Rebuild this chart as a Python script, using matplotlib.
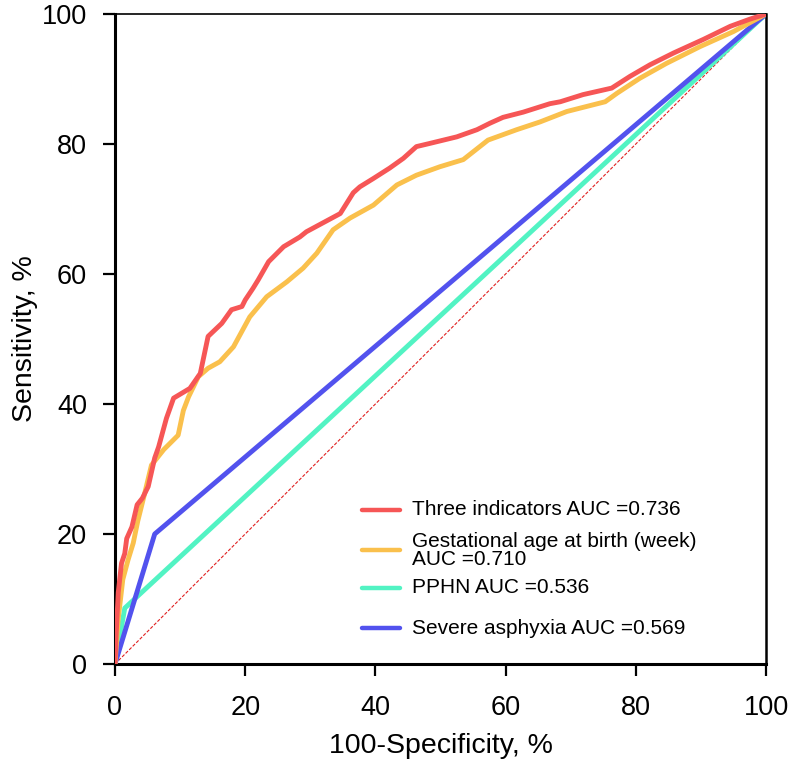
import matplotlib
matplotlib.use("Agg")
import matplotlib.pyplot as plt

plt.rcParams['font.family'] = ['Liberation Sans', 'DejaVu Sans']

# ---- data ----
three_x = [0, 0.2, 0.5, 1.0, 1.5, 1.8, 2.6, 3.4, 4.2, 5.1, 6.1, 6.7, 7.9, 9.0, 11.5, 13.1, 14.3,
           16.4, 17.9, 19.5, 20.0, 21.2, 22.0, 23.6, 25.9, 28.4, 29.4, 32.0, 34.6, 36.6, 37.6,
           39.7, 42.2, 44.3, 46.3, 48.4, 52.5, 55.6, 57.6, 59.6, 62.7, 66.8, 68.4, 71.9, 76.3,
           79.1, 82.2, 85.8, 90.4, 94.5, 97.5, 100]
three_y = [0, 5, 11, 15.5, 17, 19.3, 21.1, 24.5, 25.5, 27.3, 31.7, 33.4, 37.8, 40.9, 42.4, 44.7,
           50.4, 52.4, 54.5, 55.0, 56.0, 57.8, 59.1, 61.9, 64.2, 65.7, 66.5, 67.9, 69.3, 72.5,
           73.4, 74.7, 76.3, 77.8, 79.6, 80.1, 81.1, 82.2, 83.2, 84.1, 84.9, 86.2, 86.5, 87.6,
           88.6, 90.4, 92.2, 94.0, 96.1, 98.1, 99.2, 100]

ga_x = [0, 0.5, 1.2, 2.0, 2.8, 3.5, 4.5, 5.6, 7.5, 9.7, 10.5, 11.3, 12.8, 14.3, 16.1, 18.2, 20.7,
        23.3, 26.4, 28.9, 31.0, 33.5, 36.1, 39.7, 43.3, 46.3, 49.9, 53.5, 57.3, 61.7, 65.3, 69.4,
        75.3, 77.1, 80.6, 84.7, 89.9, 95.0, 100]
ga_y = [0, 7, 13, 16, 18.6, 22, 26, 30.6, 33, 35.2, 39, 41.1, 44.2, 45.5, 46.5, 48.8, 53.4,
        56.5, 58.8, 60.9, 63.2, 66.8, 68.6, 70.6, 73.7, 75.2, 76.5, 77.6, 80.6, 82.2, 83.4, 85.0,
        86.5, 87.8, 90.1, 92.4, 95.0, 97.3, 100]

pphn_x = [0, 1.5, 100]
pphn_y = [0, 8.6, 100]

asph_x = [0, 6.1, 100]
asph_y = [0, 20.0, 100]

ref_x = [0, 100]
ref_y = [0, 100]

labels = ["Three indicators AUC =0.736",
          "Gestational age at birth (week)\nAUC =0.710",
          "PPHN AUC =0.536",
          "Severe asphyxia AUC =0.569"]
colors = ["#f65656", "#fac04c", "#52f3c3", "#5252ee"]

ticks = [0, 20, 40, 60, 80, 100]
tick_labels = ["0", "20", "40", "60", "80", "100"]

# ---- figure ----
fig = plt.figure(figsize=(7.91, 7.65), dpi=100)
ax = fig.add_axes([115/791, 1 - 664/765, 651/791, 650/765])

ax.plot(ref_x, ref_y, color="#e02020", lw=0.8, ls=(0, (3, 1.5)), zorder=1)
series = [(three_x, three_y), (ga_x, ga_y), (pphn_x, pphn_y), (asph_x, asph_y)]
zord = [5, 4, 2, 3]
for (xs, ys), c, z in zip(series, colors, zord):
    ax.plot(xs, ys, color=c, lw=3.5, solid_joinstyle='round', zorder=z, clip_on=True)

ax.set_xlim(0, 100)
ax.set_ylim(0, 100)
ax.set_xticks(ticks)
ax.set_xticklabels(tick_labels)
ax.set_yticks(ticks)
ax.set_yticklabels(tick_labels)
ax.tick_params(axis='both', direction='out', length=8.5, width=1.6, labelsize=19.5, color='black')
ax.tick_params(axis='x', pad=13.5)
ax.tick_params(axis='y', pad=11.5)

ax.spines['left'].set_linewidth(2.2)
ax.spines['bottom'].set_linewidth(2.2)
ax.spines['top'].set_linewidth(1.2)
ax.spines['right'].set_linewidth(1.8)

ax.set_xlabel("100-Specificity, %", fontsize=20.5, labelpad=9)
ax.set_ylabel("Sensitivity, %", fontsize=20.5, labelpad=3)

# manual legend
leg_y = [0.237, 0.175, 0.117, 0.055]
for lab, c, yy in zip(labels, colors, leg_y):
    ax.plot([0.379, 0.438], [yy, yy], transform=ax.transAxes, color=c, lw=3.2,
            solid_capstyle='round', zorder=6)
    ax.text(0.456, yy, lab, transform=ax.transAxes, fontsize=15, va='center', ha='left',
            linespacing=0.95, zorder=6)

fig.savefig("out.png", dpi=100)
